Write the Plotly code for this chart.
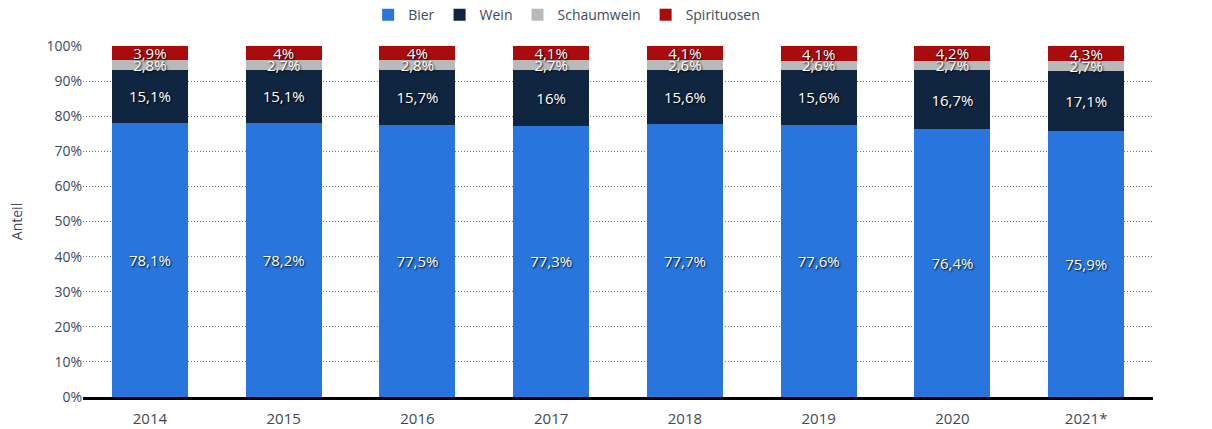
import plotly.graph_objects as go

years = ["2014", "2015", "2016", "2017", "2018", "2019", "2020", "2021*"]
bier = [78.1, 78.2, 77.5, 77.3, 77.7, 77.6, 76.4, 75.9]
wein = [15.1, 15.1, 15.7, 16.0, 15.6, 15.6, 16.7, 17.1]
schaumwein = [2.8, 2.7, 2.8, 2.7, 2.6, 2.6, 2.7, 2.7]
spirituosen = [3.9, 4.0, 4.0, 4.1, 4.1, 4.1, 4.2, 4.3]
y_ticks = [0, 10, 20, 30, 40, 50, 60, 70, 80, 90, 100]

def fmt(v):
    s = ("%.1f" % v).rstrip("0").rstrip(".")
    return s.replace(".", ",") + "%"

series = [
    ("Bier", bier, "#2876dd"),
    ("Wein", wein, "#10253f"),
    ("Schaumwein", schaumwein, "#b9b9b9"),
    ("Spirituosen", spirituosen, "#a90c0c"),
]

fig = go.Figure()
for name, vals, col in series:
    fig.add_trace(go.Bar(
        x=years, y=vals, name=name, marker=dict(color=col, line=dict(width=0)),
        text=[fmt(v) for v in vals], textposition="inside", insidetextanchor="middle",
        textangle=0, constraintext="none",
        textfont=dict(color="white", size=15, family="Open Sans", shadow="1px 1px 2px #000000"),
    ))

fig.update_layout(
    barmode="stack", bargap=0.43,
    width=1212, height=429,
    margin=dict(l=83, r=59, t=46, b=32, autoexpand=False),
    paper_bgcolor="white", plot_bgcolor="white",
    font=dict(family="Open Sans", color="#3e4a5c", size=14),
    legend=dict(orientation="h", x=0.452, xanchor="center", xref="paper",
                y=1.088, yanchor="middle", yref="paper",
                font=dict(size=14, color="#3e4a5c"),
                itemwidth=30, traceorder="normal"),
    showlegend=True,
)
fig.update_yaxes(range=[0, 100], tickvals=y_ticks, ticktext=[f"{t}%" for t in y_ticks],
                 showgrid=True, gridcolor="#777777", griddash="1px,2px", gridwidth=1,
                 zeroline=False, ticks="", ticklen=0, tickfont=dict(size=14, color="#3e4a5c"),
                 title=dict(text="Anteil", font=dict(size=14, color="#3e4a5c"), standoff=20),
                 fixedrange=True)
fig.update_xaxes(showline=True, linecolor="#000000", linewidth=2.5,
                 tickfont=dict(size=15, color="#3e4a5c"), ticks="", ticklabelstandoff=6)

fig.write_html("out.html", config={"displayModeBar": False},
               post_script="document.body.style.margin='0';")
